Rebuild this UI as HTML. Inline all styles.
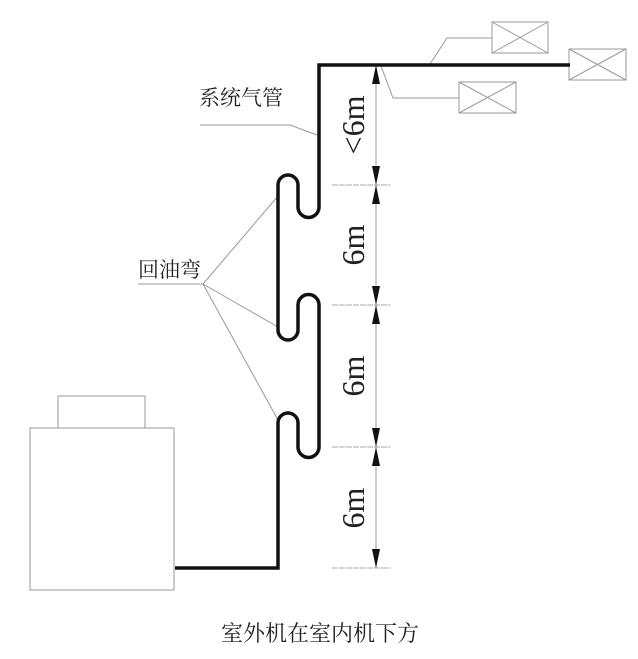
<!DOCTYPE html>
<html><head><meta charset="utf-8"><style>
html,body{margin:0;padding:0;background:#fff;}
svg{display:block;}
text{font-family:"Liberation Serif","Noto Serif CJK SC","Noto Sans CJK SC",serif;fill:#222;}
</style></head><body>
<svg width="638" height="659" viewBox="0 0 638 659" xmlns="http://www.w3.org/2000/svg">
<g fill="none" stroke="#999" stroke-width="1">
<rect x="492" y="22" width="56" height="31"/><path d="M492 22L548 53M548 22L492 53"/>
<rect x="569" y="49" width="57" height="31"/><path d="M569 49L626 80M626 49L569 80"/>
<rect x="459" y="82" width="57" height="31"/><path d="M459 82L516 113M516 82L459 113"/>
<path d="M430 64L447 38H492"/>
<path d="M381 66L393 98H459"/>
<rect x="30" y="428" width="144" height="162"/>
<rect x="58" y="396" width="87" height="32"/>
<path d="M200 125H290L317 135"/>
<path d="M138 284H203L278 196M203 284L278 327M203 284L278 420"/>
<path d="M376 65V568"/>
</g>
<g stroke="#aaa" stroke-width="1" stroke-dasharray="6,1">
<path d="M332 185H390M332 305H390M332 447H390M332 568H390"/>
</g>
<path d="M175 568H278V423A10 10 0 0 1 298 423V447A10.5 10.5 0 0 0 319 447V305A10.5 10.5 0 0 0 298 305V330A10 10 0 0 1 278 330V185A10 10 0 0 1 298 185V207A10.5 10.5 0 0 0 319 207V65H570" fill="none" stroke="#111" stroke-width="3.5"/>
<g fill="#111">
<path d="M376 65L372 84H380Z"/>
<path d="M376 185L372 166H380Z"/><path d="M376 185L372 204H380Z"/>
<path d="M376 305L372 286H380Z"/><path d="M376 305L372 324H380Z"/>
<path d="M376 447L372 428H380Z"/><path d="M376 447L372 466H380Z"/>
<path d="M376 568L372 549H380Z"/>
</g>
<g font-size="32">
<text transform="translate(364 125) rotate(-90)" text-anchor="middle">&lt;6m</text>
<text transform="translate(364 245) rotate(-90)" text-anchor="middle">6m</text>
<text transform="translate(364 376) rotate(-90)" text-anchor="middle">6m</text>
<text transform="translate(364 508) rotate(-90)" text-anchor="middle">6m</text>
</g>
<text x="199" y="105" font-size="21">系统气管</text>
<text x="138" y="277" font-size="21">回油弯</text>
<text x="320" y="641" font-size="22" text-anchor="middle">室外机在室内机下方</text>
</svg>
</body></html>
